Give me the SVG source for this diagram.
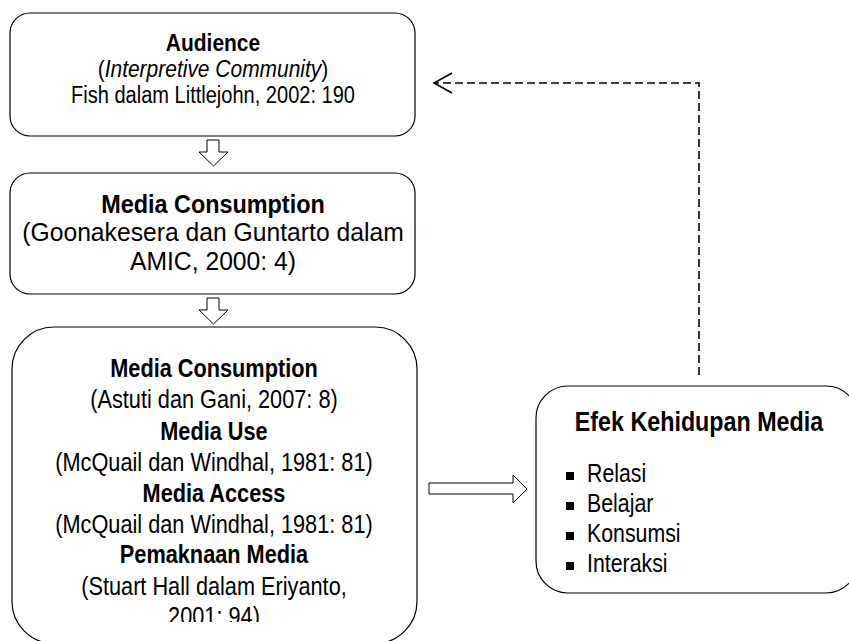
<svg xmlns="http://www.w3.org/2000/svg" width="849" height="641" viewBox="0 0 849 641">
  <style>
    .box { fill: #ffffff; stroke: #000000; stroke-width: 1.2; }
    .block { fill: #ffffff; stroke: #000000; stroke-width: 1; }
    text { font-family: 'Liberation Sans', Arial, sans-serif; fill: #000000; text-anchor: middle; }
    .b { font-weight: bold; }
    .item { text-anchor: start; }
    .dash { fill: none; stroke: #000000; stroke-width: 1.6; stroke-dasharray: 8 4; }
  </style>
  <defs>
    <marker id="openArrow" viewBox="0 0 22 22" refX="20" refY="11" markerWidth="22" markerHeight="22" markerUnits="userSpaceOnUse" orient="auto">
      <path d="M2,1 L20,11 L2,21" fill="none" stroke="#000000" stroke-width="1.6"/>
    </marker>
    <clipPath id="box3Clip">
      <rect x="12" y="327" width="405" height="295"/>
    </clipPath>
  </defs>

  <rect width="849" height="641" fill="#ffffff"/>

  <!-- Audience -->
  <g id="audience">
    <rect class="box" x="10" y="13" width="405" height="123" rx="20"/>
    <!-- condensed lettering: horizontal squeeze about x = 213 -->
    <g font-size="23.3">
      <g transform="matrix(0.9 0 0 1 21.3 0)">
        <text class="b" x="213" y="51.5">Audience</text>
        <text x="213" y="77.5">(<tspan font-style="italic">Interpretive Community</tspan>)</text>
      </g>
      <g transform="matrix(0.86 0 0 1 29.82 0)">
        <text x="213" y="103.5">Fish dalam Littlejohn, 2002: 190</text>
      </g>
    </g>
  </g>

  <!-- Media Consumption -->
  <g id="media-consumption">
    <rect class="box" x="10" y="173" width="405" height="121" rx="20"/>
    <g font-size="26">
      <g transform="matrix(0.9 0 0 1 21.3 0)">
        <text class="b" x="213" y="213">Media Consumption</text>
      </g>
      <g transform="matrix(0.95 0 0 1 10.65 0)">
        <text x="213" y="241.5">(Goonakesera dan Guntarto dalam</text>
        <text x="213" y="270">AMIC, 2000: 4)</text>
      </g>
    </g>
  </g>

  <!-- Media consumption, use, access, meaning -->
  <g id="media-practice">
    <rect class="box" x="12" y="327" width="405" height="316.5" rx="42"/>
    <g clip-path="url(#box3Clip)">
      <g transform="matrix(0.82 0 0 1 38.52 0)" font-size="26.5">
        <text class="b" x="214" y="377">Media Consumption</text>
        <text x="214" y="408">(Astuti dan Gani, 2007: 8)</text>
        <text class="b" x="214" y="440">Media Use</text>
        <text x="214" y="471">(McQuail dan Windhal, 1981: 81)</text>
        <text class="b" x="214" y="502">Media Access</text>
        <text x="214" y="533">(McQuail dan Windhal, 1981: 81)</text>
        <text class="b" x="214" y="563">Pemaknaan Media</text>
        <text x="214" y="595">(Stuart Hall dalam Eriyanto,</text>
        <text x="214" y="625">2001: 94)</text>
      </g>
    </g>
  </g>

  <!-- Effects -->
  <g id="efek">
    <rect class="box" x="536" y="386" width="322" height="207" rx="32"/>
    <g transform="matrix(0.82 0 0 1 125.82 0)" font-size="28.4">
      <text class="b" x="699" y="431">Efek Kehidupan Media</text>
    </g>
    <rect x="566" y="472" width="8" height="8"/>
    <rect x="566" y="502" width="8" height="8"/>
    <rect x="566" y="532" width="8" height="8"/>
    <rect x="566" y="562" width="8" height="8"/>
    <g transform="matrix(0.82 0 0 1 105.66 0)" font-size="26">
      <text class="item" x="587" y="482">Relasi</text>
      <text class="item" x="587" y="512">Belajar</text>
      <text class="item" x="587" y="542">Konsumsi</text>
      <text class="item" x="587" y="572">Interaksi</text>
    </g>
  </g>

  <!-- Connectors -->
  <g id="connectors">
    <path class="block" d="M207,140 H219 V152 H228 L213.5,166 L199,152 H207 Z"/>
    <path class="block" d="M207,298 H219 V310 H228 L213.5,324 L199,310 H207 Z"/>
    <path class="block" d="M429,483 H513 V475 L527,489 L513,503 V494 H429 Z"/>
    <path class="dash" d="M699,375 V83 H434" marker-end="url(#openArrow)"/>
  </g>
</svg>
